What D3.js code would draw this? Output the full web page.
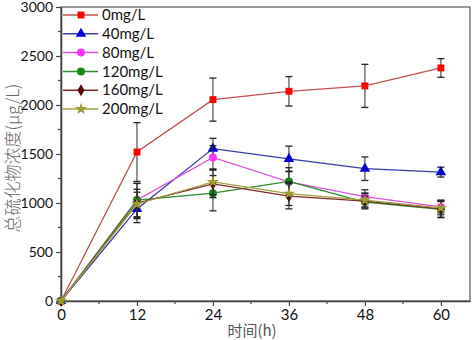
<!DOCTYPE html>
<html>
<head>
<meta charset="utf-8">
<script src="https://cdn.jsdelivr.net/npm/d3@7"></script>
<style>
  body { margin: 0; background: #fff; }
  svg { display: block; }
</style>
</head>
<body>
<div id="chart"></div>
<script>
// time points (h)
var hours = [0, 12, 24, 36, 48, 60]
var seriesNames = ["0mg/L", "40mg/L", "80mg/L", "120mg/L", "160mg/L", "200mg/L"]

// total sulfide concentration, ug/L
var s0 = [0, 1520, 2055, 2140, 2195, 2378]
var s40 = [0, 940, 1555, 1450, 1350, 1315]
var s80 = [0, 1030, 1465, 1215, 1065, 960]
var s120 = [0, 1030, 1100, 1220, 1010, 935]
var s160 = [0, 1000, 1195, 1070, 1020, 940]
var s200 = [0, 990, 1215, 1095, 1030, 950]

// error bar half-widths
var e0 = [0, 300, 220, 150, 220, 95]
var e40 = [0, 90, 105, 130, 120, 50]
var e80 = [0, 80, 120, 110, 70, 60]
var e120 = [0, 170, 180, 140, 60, 80]
var e160 = [0, 200, 140, 130, 80, 90]
var e200 = [0, 150, 130, 120, 70, 70]

var yTicks = [0, 500, 1000, 1500, 2000, 2500, 3000]
var xTicks = [0, 12, 24, 36, 48, 60]

var styles = [
    {line: "#c0504d", fill: "#ff0000", sym: d3.symbolSquare, size: 48},
    {line: "#3a3aa8", fill: "#0000d0", sym: d3.symbolTriangle, size: 48},
    {line: "#dd55dd", fill: "#ff33ff", sym: d3.symbolCircle, size: 50},
    {line: "#2e8b2e", fill: "#138a13", sym: d3.symbolCircle, size: 50},
    {line: "#7a2a2a", fill: "#5a0000", sym: d3.symbolDiamond, size: 42},
    {line: "#a4a040", fill: "#9c9a30", sym: d3.symbolStar, size: 45}
]

var values = [s0, s40, s80, s120, s160, s200]
var errors = [e0, e40, e80, e120, e160, e200]

var data = seriesNames.map(function(name, i){
    return {
        name: name,
        style: styles[i],
        points: hours.map(function(h, j){
            return {h: h, v: values[i][j], e: errors[i][j]}
        })
    }
})

var width = 472, height = 340
var margin = {top: 7, right: 2, bottom: 39, left: 61}

var svg = d3.select("#chart").append("svg")
    .attr("width", width)
    .attr("height", height)
    .style("font-family", "Lato, 'Open Sans', sans-serif")

var x = d3.scaleLinear().domain([0, 64.6]).range([margin.left, width - margin.right])
var y = d3.scaleLinear().domain([0, 3000]).range([height - margin.bottom, margin.top])

// frame
svg.append("rect")
    .attr("x", margin.left).attr("y", margin.top)
    .attr("width", width - margin.right - margin.left)
    .attr("height", height - margin.bottom - margin.top)
    .attr("fill", "none").attr("stroke", "#555").attr("stroke-width", 1.2)

// minor ticks
svg.append("g").selectAll("line")
    .data(d3.range(6, 64, 12)).enter().append("line")
    .attr("x1", function(d){ return x(d) }).attr("x2", function(d){ return x(d) })
    .attr("y1", y(0)).attr("y2", y(0) + 3)
    .attr("stroke", "#444").attr("stroke-width", 1.2)
svg.append("g").selectAll("line")
    .data(d3.range(250, 3000, 500)).enter().append("line")
    .attr("x1", x(0) - 3).attr("x2", x(0))
    .attr("y1", function(d){ return y(d) }).attr("y2", function(d){ return y(d) })
    .attr("stroke", "#444").attr("stroke-width", 1.2)

var xAxis = svg.append("g")
    .attr("transform", "translate(0," + y(0) + ")")
    .call(d3.axisBottom(x).tickValues(xTicks).tickFormat(d3.format("d")).tickSize(5).tickPadding(3).tickSizeOuter(0))
xAxis.select(".domain").attr("stroke", "#444").attr("stroke-width", 1.6)
xAxis.selectAll(".tick line").attr("stroke", "#444").attr("stroke-width", 1.2)
xAxis.selectAll("text").attr("font-size", 15).attr("fill", "#111")
    .attr("font-family", "Lato, sans-serif")

var yAxis = svg.append("g")
    .attr("transform", "translate(" + x(0) + ",0)")
    .call(d3.axisLeft(y).tickValues(yTicks).tickFormat(d3.format("d")).tickSize(5).tickPadding(3).tickSizeOuter(0))
yAxis.select(".domain").attr("stroke", "#444").attr("stroke-width", 1.6)
yAxis.selectAll(".tick line").attr("stroke", "#444").attr("stroke-width", 1.2)
yAxis.selectAll("text").attr("font-size", 14).attr("fill", "#111")
    .attr("font-family", "Lato, sans-serif")

// axis titles
svg.append("text")
    .attr("x", 252).attr("y", 336)
    .attr("text-anchor", "middle")
    .attr("font-size", 15)
    .attr("fill", "#555")
    .attr("font-family", "'Noto Sans CJK SC', sans-serif")
    .text("时间(h)")

svg.append("text")
    .attr("transform", "translate(19,158) rotate(-90)")
    .attr("text-anchor", "middle")
    .attr("font-size", 17)
    .attr("fill", "#666")
    .attr("font-weight", 300)
    .attr("font-family", "'Noto Sans CJK SC', sans-serif")
    .text("总硫化物浓度(μg/L)")

var line = d3.line()
    .x(function(d){ return x(d.h) })
    .y(function(d){ return y(d.v) })

var groups = svg.selectAll(".series")
    .data(data).enter().append("g")
    .attr("class", "series")

// error bars
groups.each(function(s){
    var g = d3.select(this)
    var pts = s.points.filter(function(p){ return p.e > 0 })
    g.selectAll(".err").data(pts).enter().append("line")
        .attr("x1", function(d){ return x(d.h) }).attr("x2", function(d){ return x(d.h) })
        .attr("y1", function(d){ return y(d.v - d.e) }).attr("y2", function(d){ return y(d.v + d.e) })
        .attr("stroke", "#333").attr("stroke-width", 1.3).attr("opacity", 0.8)
    g.selectAll(".capTop").data(pts).enter().append("line")
        .attr("x1", function(d){ return x(d.h) - 3.5 }).attr("x2", function(d){ return x(d.h) + 3.5 })
        .attr("y1", function(d){ return y(d.v + d.e) }).attr("y2", function(d){ return y(d.v + d.e) })
        .attr("stroke", "#222").attr("stroke-width", 1.3)
    g.selectAll(".capBot").data(pts).enter().append("line")
        .attr("x1", function(d){ return x(d.h) - 3.5 }).attr("x2", function(d){ return x(d.h) + 3.5 })
        .attr("y1", function(d){ return y(d.v - d.e) }).attr("y2", function(d){ return y(d.v - d.e) })
        .attr("stroke", "#222").attr("stroke-width", 1.3)
})

groups.append("path")
    .attr("d", function(d){ return line(d.points) })
    .attr("fill", "none")
    .attr("stroke", function(d){ return d.style.line })
    .attr("stroke-width", 1.3)

groups.each(function(s){
    d3.select(this).selectAll(".mark").data(s.points).enter().append("path")
        .attr("class", "mark")
        .attr("transform", function(d){ return "translate(" + x(d.h) + "," + y(d.v) + ")" })
        .attr("d", d3.symbol().type(s.style.sym).size(s.style.size))
        .attr("fill", s.style.fill)
})

// legend
var legend = svg.append("g")
var rowY = d3.scaleLinear().domain([0, 5]).range([15, 109])
var items = legend.selectAll("g").data(data).enter().append("g")
    .attr("transform", function(d, i){ return "translate(0," + rowY(i) + ")" })
items.append("line")
    .attr("x1", 63).attr("x2", 98)
    .attr("stroke", function(d){ return d.style.line }).attr("stroke-width", 1.5)
items.append("path")
    .attr("transform", "translate(81,0)")
    .attr("d", function(d){ return d3.symbol().type(d.style.sym).size(d.style.size)() })
    .attr("fill", function(d){ return d.style.fill })
items.append("text")
    .attr("x", 102).attr("dy", "0.35em")
    .attr("font-size", 15)
    .attr("fill", "#111")
    .text(function(d){ return d.name })
</script>
</body>
</html>
